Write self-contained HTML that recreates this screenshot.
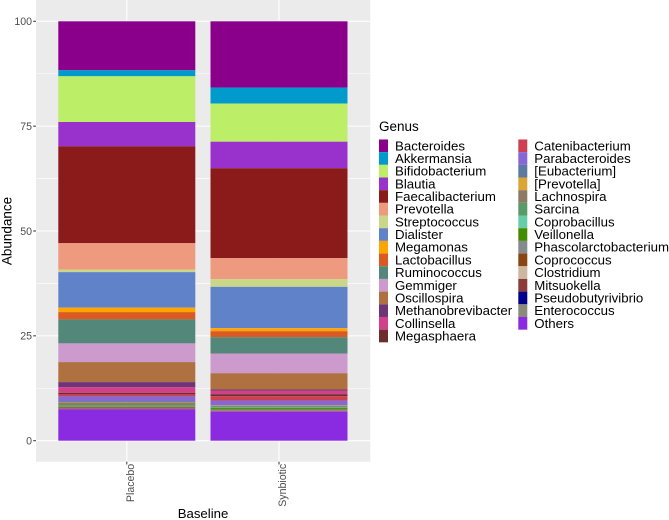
<!DOCTYPE html>
<html lang="en">
<head>
<meta charset="utf-8">
<title>Genus abundance by group</title>
<style>
html,body{margin:0;padding:0;background:#fff;}
svg{display:block;font-family:"Liberation Sans",Arial,sans-serif;}
</style>
</head>
<body>
<svg id="chart" xmlns="http://www.w3.org/2000/svg" width="669" height="520" viewBox="0 0 669 520">
  <rect x="0" y="0" width="669" height="520" fill="#fff"/>
  <rect x="36" y="0" width="334.3" height="461.7" fill="#EBEBEB"/>
  <g id="grid"></g>
  <g id="bars"></g>
  <g id="yaxis"></g>
  <g id="xaxis"></g>
  <text transform="translate(11.5,231) rotate(-90)" text-anchor="middle" font-size="13.5" fill="#000">Abundance</text>
  <text x="203" y="518" text-anchor="middle" font-size="13.2" fill="#000">Baseline</text>
  <g id="legend">
    <text x="379" y="131" font-size="13.5" fill="#000">Genus</text>
  </g>
</svg>
<script>
const categories = ["Placebo", "Synbiotic"];
const genera = ["Bacteroides","Akkermansia","Bifidobacterium","Blautia","Faecalibacterium","Prevotella","Streptococcus","Dialister","Megamonas","Lactobacillus","Ruminococcus","Gemmiger","Oscillospira","Methanobrevibacter","Collinsella","Megasphaera","Catenibacterium","Parabacteroides","[Eubacterium]","[Prevotella]","Lachnospira","Sarcina","Coprobacillus","Veillonella","Phascolarctobacterium","Coprococcus","Clostridium","Mitsuokella","Pseudobutyrivibrio","Enterococcus","Others"];
const placeboValues = [11.68,1.43,10.9,5.8,23.1,6.3,0.6,8.46,1.07,1.74,5.72,4.46,4.77,1.19,1.36,0.38,0.48,1.12,0.24,0.07,0.64,0.31,0.05,0.1,0.07,0.24,0.05,0.12,0.02,0.02,7.51];
const synbioticValues = [15.8,3.81,9.1,6.32,21.45,5.0,1.84,9.85,0.72,1.43,3.89,4.7,3.89,0.24,0.88,0.48,1.03,1.12,0.07,0.1,0.14,0.29,0.07,0.36,0.12,0.05,0.07,0.14,0.02,0.07,6.95];
const palette = ["#8B008B","#009ACD","#BCEE68","#9932CC","#8B1A1A","#EE9A7E","#CAD688","#5F82C8","#FFA500","#DA5A22","#53877A","#CD9ACD","#AE713F","#6B3578","#D23F8A","#6E2C2C","#CD4050","#8766D5","#5C7A9F","#DAA534","#8B7B63","#5A9A68","#66CDAA","#458B00","#838B8B","#8B4513","#CDB79E","#8B3A3A","#00008B","#8B8B7A","#8A2BE2"];
const yTicks = [0, 25, 50, 75, 100];
const yMinorTicks = [12.5, 37.5, 62.5, 87.5];
const legendColumnSize = 16;

const NS = "http://www.w3.org/2000/svg";
const panelLeft = 36, panelRight = 370.3, panelBottom = 461.7;
function yScale(v) { return 440.7 - v * 4.194; }
function xCenter(i) { return 126.8 + i * 152.2; }
const barWidth = 137;

function make(tag, attrs, parent) {
  const el = document.createElementNS(NS, tag);
  for (const k in attrs) el.setAttribute(k, attrs[k]);
  parent.appendChild(el);
  return el;
}

const grid = document.getElementById("grid");
yMinorTicks.forEach(function (t) {
  const el = make("line", {x1: panelLeft, x2: panelRight, y1: yScale(t), y2: yScale(t), stroke: "#fff", "stroke-width": 0.55}, grid);
  
  
});
yTicks.forEach(function (t) {
  const el = make("line", {x1: panelLeft, x2: panelRight, y1: yScale(t), y2: yScale(t), stroke: "#fff", "stroke-width": 1.07}, grid);
  
  
});
categories.forEach(function (c, i) {
  const el = make("line", {x1: xCenter(i), x2: xCenter(i), y1: 0, y2: panelBottom, stroke: "#fff", "stroke-width": 1.07}, grid);
  
  
});

const barsGroup = document.getElementById("bars");
[placeboValues, synbioticValues].forEach(function (series, i) {
  let top = 100;
  series.forEach(function (v, j) {
    const bottom = top - v;
    const el = make("rect", {
      x: xCenter(i) - barWidth / 2,
      y: yScale(top),
      width: barWidth,
      height: yScale(bottom) - yScale(top),
      fill: palette[j]
    }, barsGroup);
    
    
    top = bottom;
  });
});

const yAxis = document.getElementById("yaxis");
yTicks.forEach(function (t) {
  const mark = make("line", {x1: 33.2, x2: 36, y1: yScale(t), y2: yScale(t), stroke: "#333", "stroke-width": 1}, yAxis);
  
  
  const label = make("text", {x: 32, y: yScale(t) + 3.8, "text-anchor": "end", "font-size": 10.6, fill: "#4D4D4D"}, yAxis);
  
  
  label.textContent = String(t);
});

const xAxis = document.getElementById("xaxis");
categories.forEach(function (c, i) {
  const mark = make("line", {x1: xCenter(i), x2: xCenter(i), y1: panelBottom, y2: panelBottom + 2.8, stroke: "#333", "stroke-width": 1}, xAxis);
  
  
  const label = make("text", {
    transform: "translate(" + (xCenter(i) + 7.2) + ",463.8) rotate(-90)",
    "text-anchor": "end",
    "font-size": 10.6,
    fill: "#4D4D4D"
  }, xAxis);
  
  
  label.textContent = c;
});

const legend = document.getElementById("legend");
genera.forEach(function (name, j) {
  const col = j < legendColumnSize ? 0 : 1;
  const row = col === 0 ? j : j - legendColumnSize;
  const keyX = col === 0 ? 379 : 518.3;
  const textX = col === 0 ? 395 : 534.3;
  const cy = 145.8 + row * 12.68;
  const key = make("rect", {x: keyX, y: cy - 6.34, width: 9, height: 12.68, fill: palette[j]}, legend);
  
  
  const label = make("text", {x: textX, y: cy + 4.5, "font-size": 13.25, fill: "#000"}, legend);
  
  
  label.textContent = name;
});
</script>
</body>
</html>
